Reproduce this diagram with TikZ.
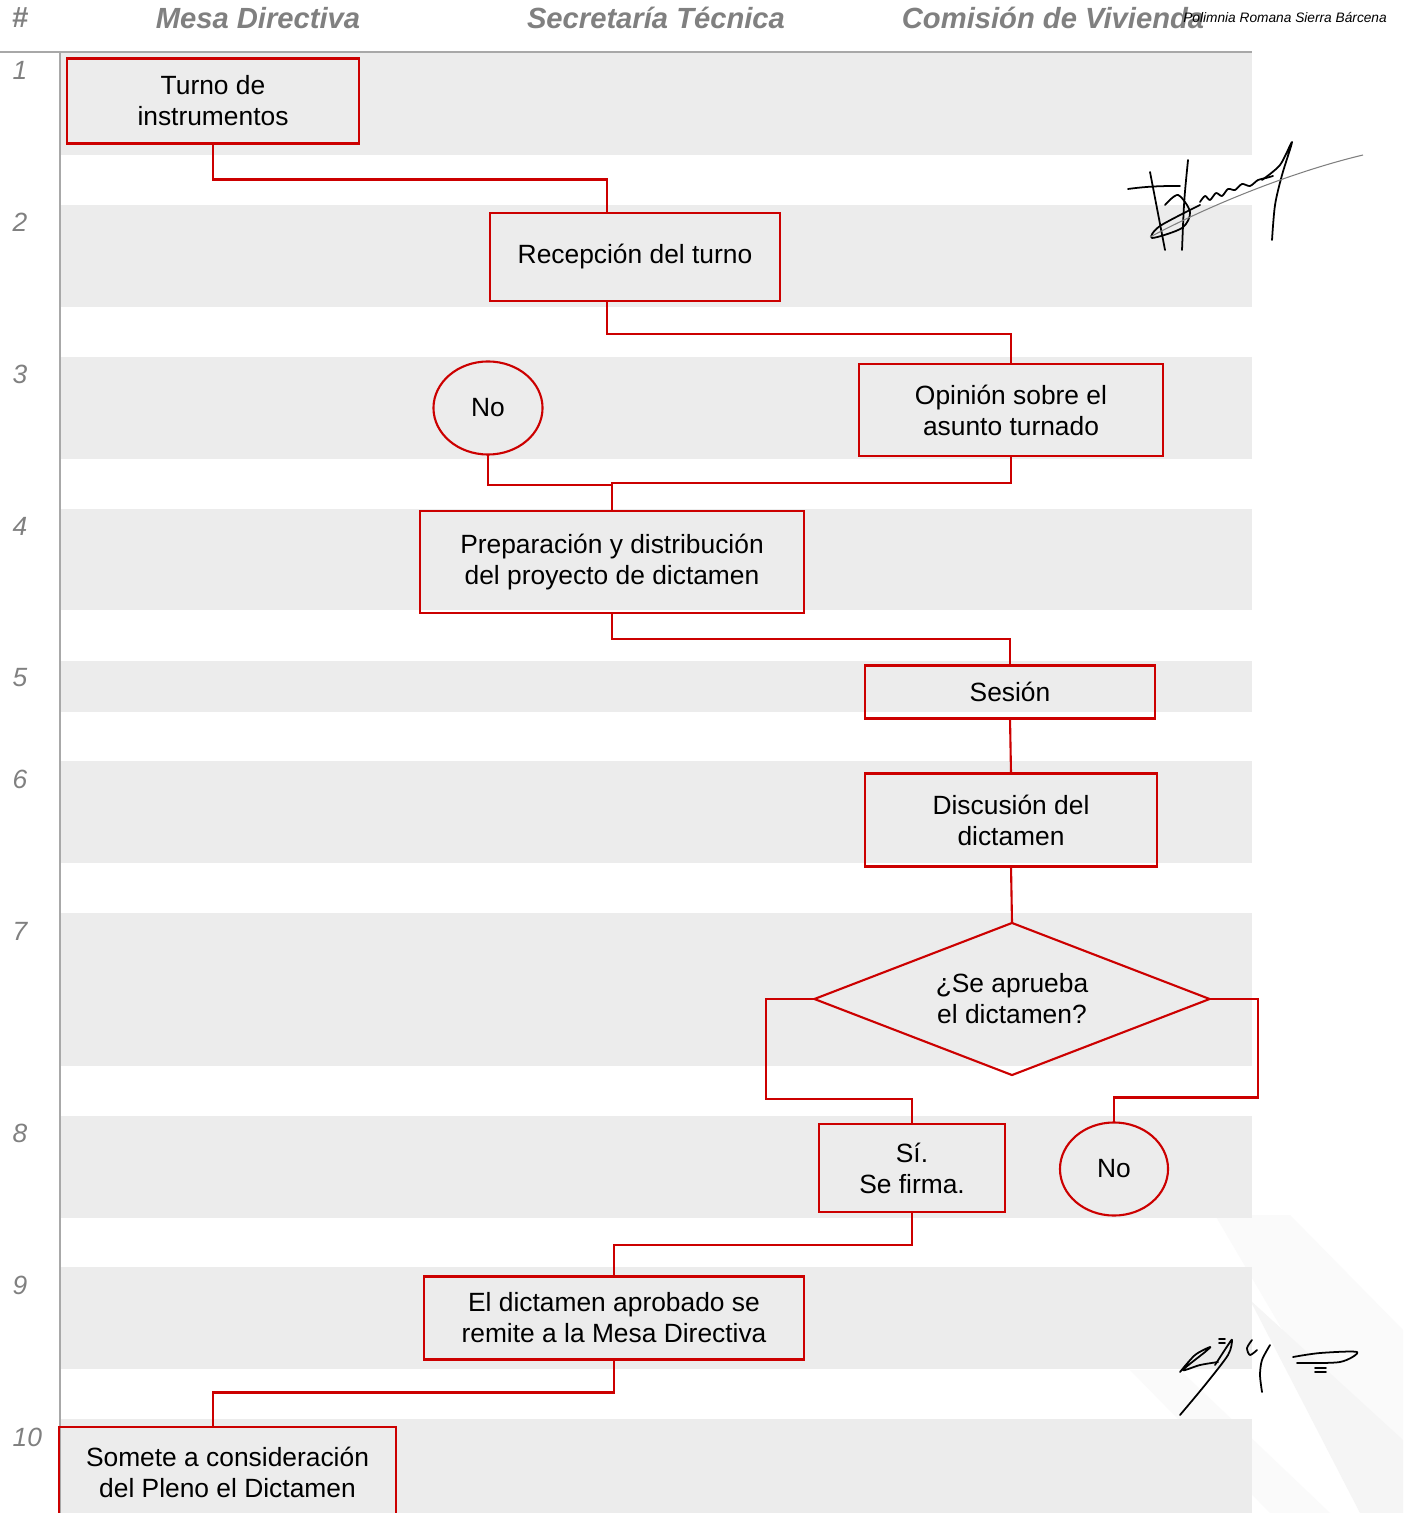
\documentclass[tikz,border=0pt]{standalone}
\usepackage{fontspec}
\setmainfont{Liberation Sans}
\usepackage{xcolor}
\usepackage{tikz}
\usetikzlibrary{shapes.geometric}

\definecolor{flujo}{RGB}{204,0,0}
\definecolor{banda}{RGB}{236,236,236}
\definecolor{titulo}{RGB}{128,128,128}
\definecolor{regla}{RGB}{168,168,168}

\begin{document}
\begin{tikzpicture}[x=0.01cm, y=-0.01cm]
		\tikzset{paso/.style={draw=flujo, line width=0.6pt, rectangle, align=center, inner sep=0pt, outer sep=0pt, font=\fontsize{7.5}{8.8}\selectfont},
			nodo/.style={draw=flujo, line width=0.6pt, ellipse, inner sep=0pt, outer sep=0pt, minimum width=1.09cm, minimum height=0.93cm, font=\fontsize{7.5}{8.8}\selectfont},
			rombo/.style={draw=flujo, line width=0.6pt, diamond, aspect=2.6, align=center, inner sep=0pt, outer sep=0pt, font=\fontsize{7.5}{8.8}\selectfont},
			liga/.style={draw=flujo, line width=0.6pt},
			encabezado/.style={text=titulo, font=\fontsize{8.3}{10}\selectfont\bfseries\itshape},
			fila/.style={text=titulo, anchor=west, inner sep=0pt, font=\fontsize{7.5}{9}\selectfont\itshape},
			firma/.style={line width=0.5pt, line cap=round, line join=round}};
		\clip (0,0) rectangle (1403,1513);
		\fill[white] (0,0) rectangle (1403,1513);
		\fill[black!2] (1215,1215) -- (1290,1215) -- (1403,1330) -- (1403,1513) -- (1390,1513) -- cycle;
		\fill[black!4] (1250,1300) -- (1403,1440) -- (1403,1513) -- (1360,1513) -- cycle;
		\fill[black!2] (1130,1370) -- (1180,1370) -- (1330,1513) -- (1270,1513) -- cycle;
		\foreach \a/\b in {53/155,205/307,357/459,509/610,661/712,761/863,913/1066,1116/1218,1267/1369,1419/1513}
			\fill[banda] (60,\a) rectangle (1252,\b);
		\draw[regla, line width=0.6pt] (0,52) -- (1252,52);
		\draw[regla, line width=0.5pt] (60,53) -- (60,1513);
		\draw[] (20,18) node[encabezado] (hash) {\#};
		\draw[] (258,18) node[encabezado] (mesa) {Mesa Directiva};
		\draw[] (656,18) node[encabezado] (secre) {Secretaría Técnica};
		\draw[] (1053,18) node[encabezado] (comis) {Comisión de Vivienda};
		\draw[] (1285,18) node[font=\fontsize{3.9}{5}\selectfont\itshape] (nombre) {Polimnia Romana Sierra Bárcena};
		\foreach \n/\y in {1/70,2/222,3/374,4/526,5/678,6/779,7/931,8/1133,9/1285,10/1437}
			\draw[] (12,\y) node[fila] {\n};

		\node[paso, minimum width=2.91cm, minimum height=0.85cm] (turno) at (213,101) {Turno de\\instrumentos};
		\node[paso, minimum width=2.90cm, minimum height=0.88cm] (recep) at (635,257) {Recepción del turno};
		\node[nodo] (noA) at (488,408) {No};
		\node[paso, minimum width=3.03cm, minimum height=0.92cm] (opin) at (1011,410) {Opinión sobre el\\asunto turnado};
		\node[paso, minimum width=3.84cm, minimum height=1.02cm] (prep) at (612,562) {Preparación y distribución\\del proyecto de dictamen};
		\node[paso, minimum width=2.90cm, minimum height=0.53cm] (sesion) at (1010,692) {Sesión};
		\node[paso, minimum width=2.91cm, minimum height=0.93cm] (disc) at (1011,820) {Discusión del\\dictamen};
		\node[rombo, minimum width=3.95cm, minimum height=1.52cm] (aprueba) at (1012,999) {¿Se aprueba\\el dictamen?};
		\node[paso, minimum width=1.86cm, minimum height=0.88cm] (firma) at (912,1168) {Sí.\\Se firma.};
		\node[nodo, minimum width=1.08cm] (noB) at (1114,1169) {No};
		\node[paso, minimum width=3.80cm, minimum height=0.83cm] (remite) at (614,1318) {El dictamen aprobado se\\remite a la Mesa Directiva};
		\node[paso, minimum width=3.37cm, minimum height=0.90cm] (somete) at (227.5,1472) {Somete a consideración\\del Pleno el Dictamen};

		\draw[liga] (turno.south) -- ++(0,36) -| ([xshift=-0.28cm]recep.north);
		\draw[liga] ([xshift=-0.28cm]recep.south) -- ++(0,33) -| (opin.north);
		\draw[liga] (opin.south) -- ++(0,27) -| (prep.north);
		\draw[liga] (noA.south) |- ([yshift=0.26cm]prep.north);
		\draw[liga] (prep.south) -- ++(0,26) -| (sesion.north);
		\draw[liga] (sesion.south) -- (disc.north);
		\draw[liga] (disc.south) -- (aprueba.north);
		\draw[liga] (aprueba.west) -- ++(-48,0) |- ([yshift=0.25cm]firma.north) -- (firma.north);
		\draw[liga] (aprueba.east) -- ++(48,0) |- ([yshift=0.25cm]noB.north) -- (noB.north);
		\draw[liga] (firma.south) -- ++(0,33) -| (remite.north);
		\draw[liga] (remite.south) -- ++(0,33) -| ([xshift=-0.145cm]somete.north);

		\draw[firma] (1128,189) .. controls (1150,186) and (1165,186) .. (1180,186);
		\draw[firma] (1150,172) -- (1165,250);
		\draw[firma] (1188,160) .. controls (1184,200) .. (1182,250);
		\draw[firma] plot[smooth] coordinates {(1165,205) (1178,195) (1190,212) (1182,228) (1152,238) (1160,226) (1200,205)};
		\draw[firma] plot[smooth] coordinates {(1200,202) (1205,196) (1210,200) (1216,193) (1222,196) (1228,189) (1235,190) (1242,184) (1250,186) (1258,180) (1266,178) (1273,176)};
		\draw[firma] plot[smooth] coordinates {(1262,180) (1280,165) (1292,142) (1282,175) (1275,205) (1272,240)};
		\draw[gray, line width=0.3pt] (1150,237) .. controls (1220,200) and (1300,170) .. (1363,155);

		\draw[firma] plot[smooth] coordinates {(1180,1372) (1195,1355) (1210,1347) (1205,1352) (1183,1370) (1200,1365) (1218,1362)};
		\draw[firma] plot[smooth] coordinates {(1215,1365) (1228,1345) (1232,1340) (1228,1355) (1205,1385) (1180,1415)};
		\draw[firma] (1219,1339) -- (1225,1339);
		\draw[firma] (1219,1343) -- (1225,1343);
		\draw[firma] plot[smooth] coordinates {(1252,1340) (1247,1348) (1250,1355) (1257,1350)};
		\draw[firma] plot[smooth] coordinates {(1270,1345) (1262,1360) (1260,1375) (1262,1392)};
		\draw[firma] plot[smooth] coordinates {(1293,1357) (1320,1353) (1357,1352) (1340,1362) (1297,1363)};
		\draw[firma] (1315,1368) -- (1326,1368);
		\draw[firma] (1315,1372) -- (1326,1372);
	\end{tikzpicture}
\end{document}
